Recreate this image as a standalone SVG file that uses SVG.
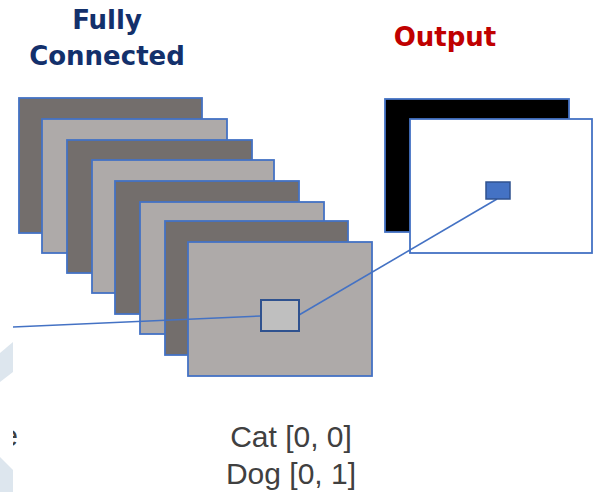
<svg xmlns="http://www.w3.org/2000/svg" width="595" height="492" viewBox="0 0 595 492">
  <style>
    .map { stroke: #4472c4; stroke-width: 1.8; }
    .dark { fill: #736e6c; }
    .light { fill: #aeaaa9; }
    .title { font-family: "DejaVu Sans", Verdana, sans-serif; font-weight: bold; font-size: 26px; text-anchor: middle; }
    .label { font-family: "Liberation Sans", Arial, sans-serif; font-size: 30px; fill: #404040; text-anchor: middle; }
    .link { stroke: #4472c4; stroke-width: 1.6; fill: none; }
  </style>
  <defs>
    <clipPath id="edge">
      <rect x="13" y="0" width="582" height="492"/>
    </clipPath>
  </defs>
  <rect width="595" height="492" fill="#ffffff"/>

  <!-- faint backdrop slivers at the left edge -->
  <polygon points="0,353 13,342 13,372 0,382" fill="#dde6ee"/>
  <polygon points="0,457 13,470 13,492 0,492" fill="#dde6ee"/>

  <!-- headings -->
  <g id="fc-title">
    <text class="title" x="107" y="29" fill="#13306b">Fully</text>
    <text class="title" x="107" y="65" fill="#13306b">Connected</text>
  </g>
  <g id="output-title">
    <text class="title" x="445" y="46" fill="#c00000">Output</text>
  </g>

  <!-- stacked feature maps -->
  <g id="feature-maps">
    <rect class="map dark" x="19" y="98" width="183" height="135"/>
    <rect class="map light" x="42" y="119" width="185" height="134"/>
    <rect class="map dark" x="67" y="140" width="185" height="133"/>
    <rect class="map light" x="92" y="160" width="182" height="133"/>
    <rect class="map dark" x="115" y="181" width="184" height="133"/>
    <rect class="map light" x="140" y="202" width="184" height="132"/>
    <rect class="map dark" x="165" y="221" width="183" height="134"/>
    <rect class="map light" x="188" y="242" width="184" height="134"/>
  </g>

  <!-- output maps -->
  <g id="output-maps">
    <rect class="map" x="385" y="99" width="184" height="133" fill="#000000"/>
    <rect class="map" x="410" y="119" width="182" height="134" fill="#ffffff"/>
  </g>

  <!-- connectors -->
  <g id="connectors">
    <line class="link" x1="13" y1="327" x2="261" y2="316"/>
    <line class="link" x1="299" y1="315" x2="497" y2="199"/>
  </g>

  <g id="fc-cell">
    <rect x="261" y="300" width="38" height="31" fill="#bfbfbf" stroke="#2f528f" stroke-width="2"/>
  </g>
  <g id="output-cell">
    <rect x="486" y="182" width="24" height="17" fill="#4472c4" stroke="#2f528f" stroke-width="1.5"/>
  </g>

  <!-- class labels -->
  <g id="labels">
    <text class="label" x="18" y="446" clip-path="url(#edge)" style="text-anchor:end">e</text>
    <text class="label" x="291" y="447">Cat [0, 0]</text>
    <text class="label" x="291" y="484">Dog [0, 1]</text>
  </g>
</svg>
